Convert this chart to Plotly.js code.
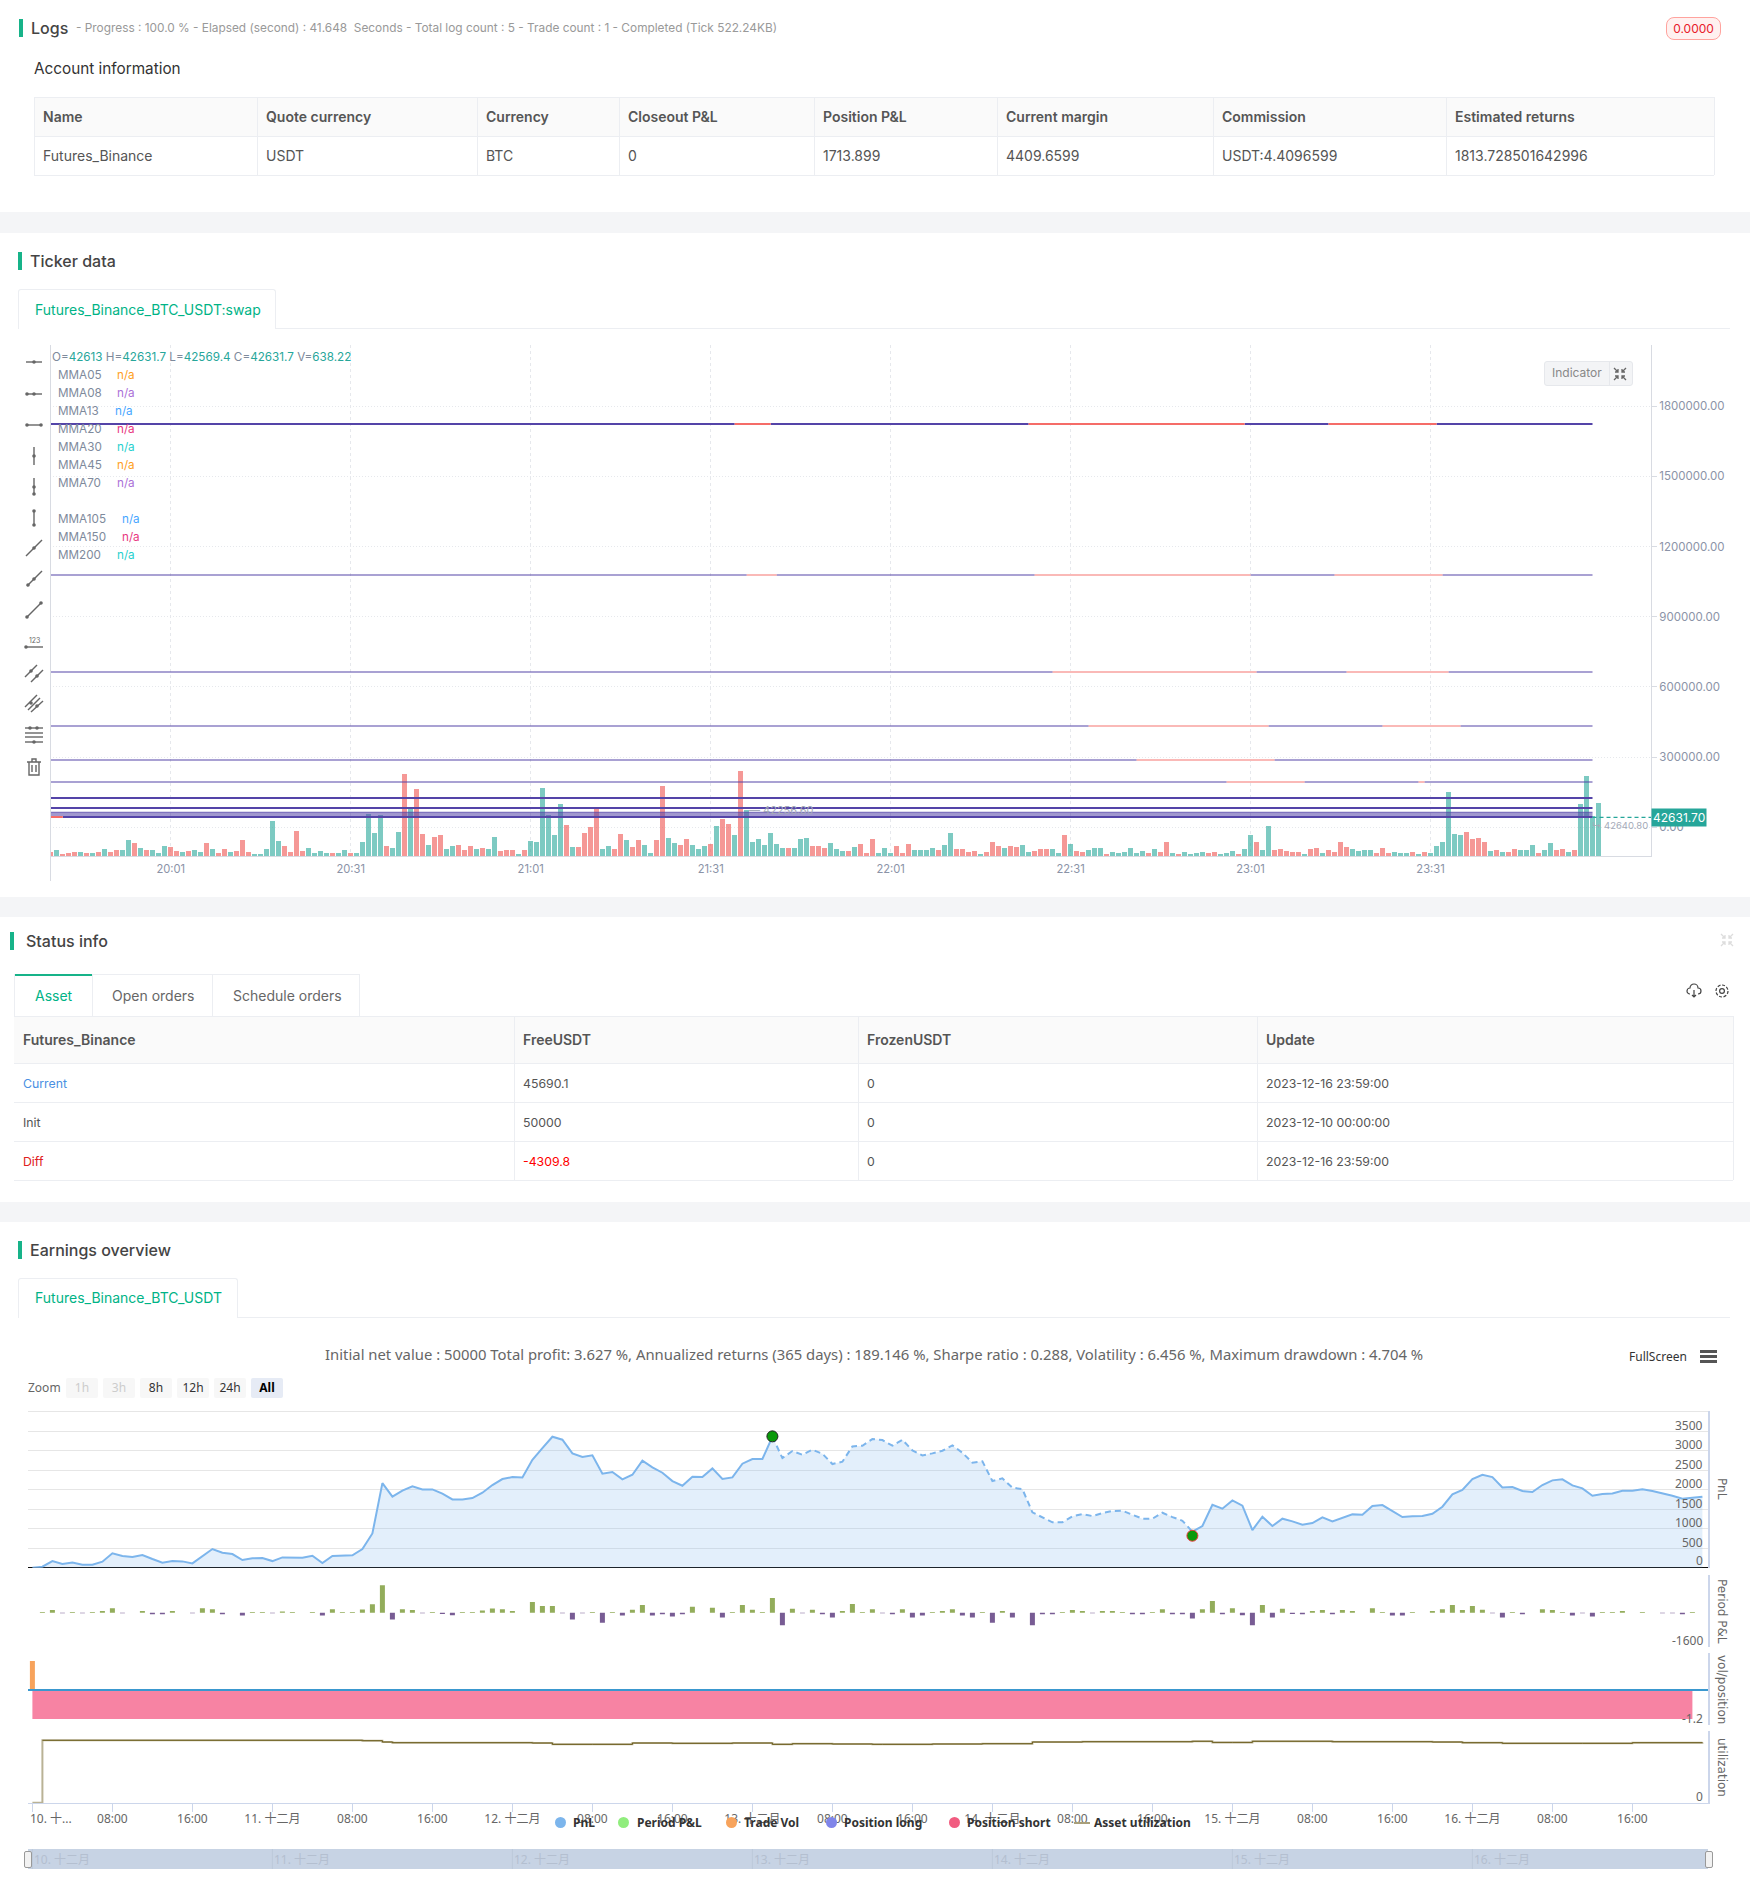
<!DOCTYPE html>
<html><head><meta charset="utf-8">
<script src="https://cdn.plot.ly/plotly-3.0.1.min.js"></script>
<style>
html,body{margin:0;padding:0;background:#fff;}
body{position:relative;width:1750px;height:1899px;overflow:hidden;font-family:Inter,"Noto Sans",sans-serif;color:#333;font-size:14px;}
.a{position:absolute;white-space:nowrap;}
.band{position:absolute;left:0;width:1750px;background:#f4f5f7;}
.bar{position:absolute;width:4px;height:18px;background:#17b389;}
.h{position:absolute;font-size:16px;font-weight:500;color:#444;line-height:18px;white-space:nowrap;}
.tab{position:absolute;border:1px solid #eceef2;border-bottom:none;border-radius:3px 3px 0 0;color:#00b386;font-size:14px;text-align:left;box-sizing:border-box;background:#fff;}
.hl{position:absolute;height:1px;background:#eceef2;}
.vl{position:absolute;width:1px;background:#eceef2;}
.cell{position:absolute;white-space:nowrap;font-size:14px;line-height:16px;}
.th{font-weight:600;color:#555;}
.td{color:#555;}
.td2{color:#555;font-size:12.3px;}
.mma{position:absolute;font-size:11.7px;line-height:14px;color:#7e8a9c;white-space:nowrap;}
.zb{position:absolute;top:1378px;height:20px;width:32px;background:#f7f7f7;font-size:12px;line-height:20px;text-align:center;color:#333;font-family:"Noto Sans",sans-serif;border-radius:2px;}
.lg{position:absolute;top:1816px;font-family:"Noto Sans",sans-serif;font-weight:700;font-size:12px;line-height:14px;color:#333;white-space:nowrap;z-index:5;}
.dot{position:absolute;top:1817px;width:11px;height:11px;border-radius:50%;z-index:5;}
#main,#earn{position:absolute;left:0;}
#main{top:335px;width:1750px;height:560px;}
#earn{top:1340px;width:1750px;height:540px;}
</style></head><body>

<div class="bar" style="left:19px;top:19px"></div>
<div class="h" style="left:31px;top:19px">Logs</div>
<div class="a" style="left:76px;top:21px;font-size:11.85px;color:#999;line-height:14px">- Progress : 100.0 % - Elapsed (second) : 41.648&nbsp; Seconds - Total log count : 5 - Trade count : 1 - Completed (Tick 522.24KB)</div>
<div class="a" style="left:1666px;top:17px;width:53px;height:21px;border:1px solid #ffa39e;border-radius:8px;background:#fff1f0;color:#e8202a;font-size:12px;line-height:21px;text-align:center">0.0000</div>
<div class="a" style="left:34px;top:60px;font-size:15.3px;color:#333;line-height:18px">Account information</div>

<div id="acct"></div>

<div class="band" style="top:212px;height:21px"></div>
<div class="bar" style="left:18px;top:252px"></div>
<div class="h" style="left:30px;top:252px">Ticker data</div>
<div class="tab" style="left:18px;top:289px;width:258px;height:40px;padding:11px 0 0 16px">Futures_Binance_BTC_USDT:swap</div>
<div class="hl" style="left:276px;top:328px;width:1454px"></div>

<div id="main"></div>
<div class="vl" style="left:50px;top:345px;height:536px;background:#d8dbe2;z-index:3"></div>
<div id="toolbar"></div>
<div class="mma" style="left:52px;top:350px" id="ohlc"></div>
<div id="mmaLabels"></div>
<div class="a" style="left:1544px;top:361px;width:87px;height:23px;border:1px solid #e6e8ec;background:#f3f4f6;border-radius:3px;font-size:12px;line-height:22px;color:#888;z-index:4"><span style="margin-left:7px">Indicator</span><span style="position:absolute;left:64px;top:0;height:23px;width:1px;background:#e6e8ec"></span>
<svg style="position:absolute;left:67px;top:4px" width="16" height="16" viewBox="0 0 16 16" fill="none" stroke="#666" stroke-width="1.3"><path d="M2 2l4 4M6 3v3H3M14 2l-4 4M10 3v3h3M2 14l4-4M3 10h3v3M14 14l-4-4M13 10h-3v3"/></svg></div>

<div class="band" style="top:897px;height:20px"></div>
<div class="bar" style="left:10px;top:932px"></div>
<div class="h" style="left:26px;top:932px">Status info</div>
<svg class="a" style="left:1720px;top:933px" width="14" height="14" viewBox="0 0 14 14" fill="none" stroke="#ddd" stroke-width="1.3"><path d="M1 1l4 4M5 2v3H2M13 1l-4 4M9 2v3h3M1 13l4-4M2 9h3v3M13 13l-4-4M12 9H9v3"/></svg>
<div id="status"></div>

<div class="band" style="top:1202px;height:20px"></div>
<div class="bar" style="left:18px;top:1241px"></div>
<div class="h" style="left:30px;top:1241px">Earnings overview</div>
<div class="tab" style="left:18px;top:1278px;width:220px;height:40px;padding:10px 0 0 16px">Futures_Binance_BTC_USDT</div>
<div class="hl" style="left:238px;top:1317px;width:1492px"></div>

<div id="earn"></div>
<div class="a" style="left:1629px;top:1349px;font-family:'Noto Sans',sans-serif;font-size:12px;line-height:16px;color:#333;z-index:5">FullScreen</div>
<div class="a" style="left:1700px;top:1350px;width:17px;height:3px;background:#555;z-index:5"></div>
<div class="a" style="left:1700px;top:1355px;width:17px;height:3px;background:#555;z-index:5"></div>
<div class="a" style="left:1700px;top:1360px;width:17px;height:3px;background:#555;z-index:5"></div>
<div class="a" style="left:28px;top:1380px;font-family:'Noto Sans',sans-serif;font-size:12px;line-height:16px;color:#666">Zoom</div>
<div class="zb" style="left:66px;color:#ccc">1h</div>
<div class="zb" style="left:103px;color:#ccc">3h</div>
<div class="zb" style="left:140px">8h</div>
<div class="zb" style="left:177px">12h</div>
<div class="zb" style="left:214px">24h</div>
<div class="zb" style="left:251px;background:#e6ebf5;font-weight:700;color:#000">All</div>
<div id="legendHtml"></div>
<div class="a" style="left:24px;top:1851px;width:6px;height:15px;background:#f2f2f2;border:1px solid #999;border-radius:2px;z-index:5"></div>
<div class="a" style="left:1705px;top:1851px;width:6px;height:15px;background:#f2f2f2;border:1px solid #999;border-radius:2px;z-index:5"></div>

<script>
// ---------- Ticker data ----------
const TICKER_DAY = '2023-12-16 ';
const tickTimes = ['20:01','20:31','21:01','21:31','22:01','22:31','23:01','23:31'];
const priceTicks = [0,300000,600000,900000,1200000,1500000,1800000];
const lastPrice = 42631.7;
const highPrice = 42640.8;
const lowPrice = 42256.6;

const mmaNames = ['MMA05','MMA08','MMA13','MMA20','MMA30','MMA45','MMA70','','MMA105','MMA150','MM200'];
const mmaColors = ['#ff9f1c','#ab6fd8','#46a6ff','#e8387f','#26d0ce','#ff9f1c','#ab6fd8','','#46a6ff','#e8387f','#26d0ce'];
const mmaLevels = [1723500,1078200,663700,432900,287600,193600,125200,82500,62400,52600,44000];
const mmaAlpha = [1,0.5,0.5,0.5,0.5,0.5,1,1,0.75,0.55,1];
const mmaRed = [
 [['21:35','21:41'],['22:24','23:00'],['23:14','23:32']],
 [['21:37','21:42'],['22:25','23:01'],['23:15','23:33']],
 [['22:28','23:02'],['23:17','23:34']],
 [['22:34','23:04'],['23:23','23:36']],
 [['22:42','23:05']],
 [['22:57','23:10'],['23:29','23:30']],
 [],[],[],[],
 [['19:41','19:43']]
];
const lineStart = '19:41', lineEnd = '23:58';

// one value per minute from 19:41 to 23:59
const volumes = [
48,72,24,40,48,48,36,32,48,80,
52,68,76,192,156,96,76,76,36,116,
112,60,48,60,68,52,152,84,36,88,
52,60,188,44,28,24,84,424,184,120,
48,300,60,100,36,64,36,36,32,72,
36,40,172,500,272,492,124,100,288,984,
560,800,260,132,228,252,80,116,132,72,
124,80,96,84,224,60,76,72,24,72,
184,168,820,488,252,620,368,108,108,280,
348,572,84,124,84,264,192,108,192,128,
36,192,840,216,156,136,208,132,84,120,
144,360,440,380,248,1020,552,168,200,128,
276,140,96,96,96,204,216,124,124,96,
152,84,60,60,108,144,40,200,
40,100,40,124,36,144,68,76,76,100,
72,136,276,88,84,52,60,24,48,168,
120,100,116,112,132,48,60,84,84,84,
36,248,144,60,48,76,96,96,24,48,
36,48,96,36,60,36,84,48,172,36,
24,48,24,36,44,36,48,24,36,60,
28,84,252,168,72,360,72,88,60,52,
48,24,84,96,36,72,48,168,108,84,
60,68,68,36,100,36,48,40,40,48,
24,48,36,120,168,768,268,256,288,204,
220,168,60,72,48,48,84,72,72,136,
36,72,160,72,80,48,72,624,960,480,
638.22];
// direction of each of those bars: g = up, r = down
const volumeSide = ('rgrrrgrgrg rrggrgrggg rrgrggrgrr grrrgggggr rrrggggrgg rgggggrggr grrgrrggrr rgrggrrrgr ggggggrgrr rrggrrgrrg '+
 'grrggrrggg rgrrgrgggg gggrgggrrr gggrgrrr '+
 'gggrrrgggg rggrrrrgrr rgrrggrrrg grgrrgggrg gggggrgrrg rggggrrggg rggrggrrrr rgrrgrrrrg gggrrrgggr grggggggrr rrgrgrrggg rggrrgrggg g').replace(/ /g,'').split('');

// ---------- Earnings overview ----------
const summary = 'Initial net value : 50000 Total profit: 3.627 %, Annualized returns (365 days) : 189.146 %, Sharpe ratio : 0.288, Volatility : 6.456 %, Maximum drawdown : 4.704 %';
const pnl = [
0,25,170,95,135,75,75,155,370,300,275,325,222,130,170,162,110,300,480,385,350,197,240,248,170,265,265,257,308,120,300,317,317,480,880,2173,1823,1977,2088,2011,2011,1900,1754,1754,1788,1925,2122,2276,2327,2319,2772,3072,3363,3286,2935,2841,2884,2413,2456,2268,2387,2747,2576,2439,2225,2105,2336,2327,2550,2276,2319,2670,2790,2790,3363,
2815,2995,2900,3029,2927,2661,2721,3115,3132,3303,3277,3132,3286,3012,2884,2935,3003,3140,2952,2695,2730,2225,2293,2054,2019,1420,1292,1164,1164,1318,1378,1326,1403,1455,1463,1352,1258,1258,1412,1300,1206,924,
1070,1617,1515,1728,1592,967,1309,1070,1258,1189,1104,1147,1292,1189,1284,1369,1360,1583,1609,1455,1300,1318,1326,1386,1566,1883,1994,2276,2387,2327,2062,2071,1968,1942,2122,2242,2268,2113,2037,1848,1891,1908,1977,1977,2011,1968,1917,1848,1771,1788,1823];
const drawdownStartHour = 74, drawdownEndHour = 116;
const peakValue = 3372, troughValue = 821;
const periodPnl = [
0,30,120,-30,30,-30,30,75,210,-30,0,75,-75,-75,75,0,-30,210,165,-75,0,-135,30,30,-30,60,30,0,30,-135,165,30,30,150,390,1275,-315,165,120,-30,30,-60,-120,30,30,105,195,165,75,0,495,315,315,-30,-315,-30,30,-465,30,-135,135,360,-135,-75,-180,-75,270,0,225,-225,30,360,135,30,675,-585,180,-30,135,-75,-225,75,405,30,165,
-30,-75,165,-225,-135,30,75,165,-135,-225,30,-465,75,-225,0,-585,-75,-75,30,120,75,-30,75,75,30,-75,-75,30,165,-75,-75,-270,165,540,-75,210,-120,-585,360,-225,180,-60,-75,75,120,-75,120,75,0,210,30,-135,-135,30,0,75,165,360,120,315,135,-30,-225,30,-75,0,165,120,30,-135,-30,-180,30,30,75,0,30,0,-30,-30,-75,30,0];
const tradeVolHour = [0], tradeVol = [1.2];
const shortHours = [0,166], shortPosition = [-1.2,-1.2];
const longPosition = [0,0];
const utilHours = [0,1,33,35,36,50,52,56,60,64,70,74,76,80,84,85,90,95,100,105,116,118,120,122,130,140,143,147,155,160,167];
const utilValues = [0.0009,0.0887,0.0882,0.0863,0.0854,0.0849,0.0830,0.0830,0.0849,0.0844,0.0849,0.0830,0.0840,0.0835,0.0830,0.0830,0.0835,0.0840,0.0863,0.0868,0.0873,0.0858,0.0858,0.0873,0.0868,0.0863,0.0854,0.0844,0.0844,0.0854,0.0858];
const pnlTicks = [0,500,1000,1500,2000,2500,3000,3500];
const axisTickHours = [0,8,16,24,32,40,48,56,64,72,80,88,96,104,112,120,128,136,144,152,160];
const firstTickLabel = '10. 十...';
const axisTickLabels = ['','08:00','16:00','11. 十二月','08:00','16:00','12. 十二月','08:00','16:00','13. 十二月','08:00','16:00','14. 十二月','08:00','16:00','15. 十二月','08:00','16:00','16. 十二月','08:00','16:00'];
const navigatorHours = [0,24,48,72,96,120,144];
const navigatorLabels = ['10. 十二月','11. 十二月','12. 十二月','13. 十二月','14. 十二月','15. 十二月','16. 十二月'];
const legendNames = ['PnL','Period P&L','Trade Vol','Position long','Position short','Asset utilization'];
const legendColors = ['#7cb5ec','#90ed7d','#f7a35c','#8085e9','#f15c80','#a89f7a'];

// ---------- Tables ----------
const acctHeaders = ['Name','Quote currency','Currency','Closeout P&L','Position P&L','Current margin','Commission','Estimated returns'];
const acctValues = ['Futures_Binance','USDT','BTC','0','1713.899','4409.6599','USDT:4.4096599','1813.728501642996'];
const statusHeaders = ['Futures_Binance','FreeUSDT','FrozenUSDT','Update'];
const statusRows = [
 ['Current','45690.1','0','2023-12-16 23:59:00'],
 ['Init','50000','0','2023-12-10 00:00:00'],
 ['Diff','-4309.8','0','2023-12-16 23:59:00']];

// ---------- HTML chrome ----------
function el(html){document.body.insertAdjacentHTML('beforeend',html);}
(function(){
 const cols=[34,257,477,619,814,997,1213,1446,1714];
 el(`<div class="a" style="left:34px;top:97px;width:1680px;height:39px;background:#fafafa"></div>`);
 [97,136,175].forEach(y=>el(`<div class="hl" style="left:34px;top:${y}px;width:1680px"></div>`));
 cols.forEach(x=>el(`<div class="vl" style="left:${x}px;top:97px;height:78px"></div>`));
 acctHeaders.forEach((t,i)=>el(`<div class="cell th" style="left:${cols[i]+9}px;top:109px">${t.replace('&','&amp;')}</div>`));
 acctValues.forEach((t,i)=>el(`<div class="cell td" style="left:${cols[i]+9}px;top:148px">${t}</div>`));

 // status
 el(`<div class="a" style="left:14px;top:974px;width:78px;height:2px;background:#17b389"></div>`);
 el(`<div class="hl" style="left:92px;top:974px;width:267px"></div>`);
 el(`<div class="vl" style="left:212px;top:974px;height:42px"></div><div class="vl" style="left:359px;top:974px;height:42px"></div><div class="vl" style="left:14px;top:974px;height:42px"></div><div class="vl" style="left:92px;top:974px;height:42px"></div>`);
 el(`<div class="cell" style="left:35px;top:988px;color:#00b386">Asset</div><div class="cell" style="left:112px;top:988px;color:#666">Open orders</div><div class="cell" style="left:233px;top:988px;color:#666">Schedule orders</div>`);
 el(`<svg class="a" style="left:1686px;top:983px" width="16" height="16" viewBox="0 0 16 16" fill="none" stroke="#444" stroke-width="1.2"><path d="M4 11a3 3 0 0 1 0-6 4 4 0 0 1 8 0 3 3 0 0 1 0 6M8 7v7M6 12l2 2 2-2"/></svg>`);
 el(`<svg class="a" style="left:1714px;top:983px" width="16" height="16" viewBox="0 0 16 16" fill="none" stroke="#444" stroke-width="1.2"><circle cx="8" cy="8" r="2.4"/><circle cx="8" cy="8" r="6" stroke-dasharray="3 1.6"/></svg>`);
 const c2=[14,514,858,1257,1733];
 el(`<div class="a" style="left:14px;top:1016px;width:1719px;height:47px;background:#fafafa"></div>`);
 [1016,1063,1102,1141,1180].forEach(y=>el(`<div class="hl" style="left:14px;top:${y}px;width:1719px"></div>`));
 c2.slice(1).forEach(x=>el(`<div class="vl" style="left:${x}px;top:1016px;height:164px"></div>`));
 const tx=[23,523,867,1266];
 statusHeaders.forEach((t,i)=>el(`<div class="cell th" style="left:${tx[i]}px;top:1032px">${t}</div>`));
 const ry=[1076,1115,1154];
 statusRows.forEach((r,k)=>r.forEach((t,i)=>{
   let col='#555';
   if(k===0&&i===0)col='#4a90e2';
   if(k===2&&i===0)col='#e02020';
   if(k===2&&i===1)col='#ff0000';
   el(`<div class="cell td2" style="left:${tx[i]}px;top:${ry[k]}px;color:${col}">${t}</div>`);
 }));

 // ohlc + mma labels
 const g='#26a69a';
 document.getElementById('ohlc').innerHTML=`O=<span style="color:${g}">42613</span> H=<span style="color:${g}">42631.7</span> L=<span style="color:${g}">42569.4</span> C=<span style="color:${g}">42631.7</span> V=<span style="color:${g}">638.22</span>`;
 const naX=[117,117,115,117,117,117,117,0,122,122,117];
 mmaNames.forEach((n,i)=>{ if(!n)return;
   const y=368+i*18;
   el(`<div class="mma" style="left:58px;top:${y}px;z-index:4">${n}</div><div class="mma" style="left:${naX[i]}px;top:${y}px;color:${mmaColors[i]};z-index:4">n/a</div>`);
 });

 // toolbar icons
 const s='#666';
 const d=(x,y)=>`<circle cx="${x}" cy="${y}" r="1.8" fill="${s}"/>`;
 const l=(a,b,c,e)=>`<line x1="${a}" y1="${b}" x2="${c}" y2="${e}" stroke="${s}" stroke-width="1.4"/>`;
 const icons=[
  [362,l(2,10,18,10)+d(10,10)],[394,l(2,10,18,10)+d(3,10)+d(10,10)],[425,l(2,10,18,10)+d(3,10)+d(17,10)],
  [456,l(10,1,10,19)+d(10,10)],[487,l(10,1,10,17)+d(10,10)+d(10,17)],[518,l(10,3,10,17)+d(10,3)+d(10,17)],
  [548,l(2,18,18,2)+d(10,10)],[579,l(3,17,18,2)+d(4,16)+d(10,10)],[610,l(3,17,17,3)+d(3,17)+d(17,3)],
  [642,l(1,15,19,15)+d(2,15)+`<text x="5" y="11" font-size="7" fill="${s}" font-family="Inter">123</text>`],
  [673,l(1,14,13,2)+l(7,19,19,7)+d(7,8)+d(13,13)],[703,l(1,14,13,2)+l(4,17,16,5)+l(7,19,19,8)+d(7,10)+d(13,13)],
  [735,l(1,3,19,3)+l(1,8,19,8)+l(1,12,19,12)+l(1,17,19,17)+d(6,3)+d(13,3)+d(10,17)],
  [767,`<path d="M3 5h14M5 5v13h10V5M8 5V2h4v3M8 8v7M12 8v7" fill="none" stroke="${s}" stroke-width="1.4"/>`]
 ];
 document.getElementById('toolbar').innerHTML=icons.map(([y,c])=>`<svg class="a" style="left:24px;top:${y-10}px;z-index:4" width="20" height="20">${c}</svg>`).join('');

 // earnings legend
 const dotX=[555,618,726,826,949,0], txtX=[573,637,744,844,967,1094];
 legendNames.forEach((n,i)=>{
   if(i<5) el(`<div class="dot" style="left:${dotX[i]}px;background:${legendColors[i]}"></div>`);
   else el(`<div class="a" style="left:1074px;top:1822px;width:16px;height:2px;background:${legendColors[i]};z-index:5"></div>`);
   el(`<div class="lg" style="left:${txtX[i]}px">${n.replace('&','&amp;')}</div>`);
 });
})();

// ---------- Ticker chart ----------
const at = t => TICKER_DAY + t + ':00';
const minuteX = volumes.map((_,i)=>{const m=19*60+41+i;return at(String(Math.floor(m/60)).padStart(2,'0')+':'+String(m%60).padStart(2,'0'));});
const sideColor = {g:'rgba(38,166,154,0.6)', r:'rgba(239,83,80,0.6)'};
const mainTraces = [{
  type:'bar',x:minuteX,y:volumes,width:50000,yaxis:'y',
  marker:{color:volumeSide.map(s=>sideColor[s]),line:{width:0}},name:'Volume',showlegend:false,hoverinfo:'skip'
}];
mmaLevels.forEach((lv,i)=>{
  const a=mmaAlpha[i];
  mainTraces.push({type:'scatter',mode:'lines',x:[at(lineStart),at(lineEnd)],y:[lv,lv],yaxis:'y2',
    line:{color:`rgba(84,68,168,${a})`,width:2},name:mmaNames[i]||'MMA',showlegend:false,hoverinfo:'skip'});
  if(mmaRed[i].length){
    const xs=[],ys=[];
    mmaRed[i].forEach(([s,e])=>{xs.push(at(s),at(e),null);ys.push(lv,lv,null);});
    mainTraces.push({type:'scatter',mode:'lines',x:xs,y:ys,yaxis:'y2',line:{color:'#fff',width:2},showlegend:false,hoverinfo:'skip'});
    mainTraces.push({type:'scatter',mode:'lines',x:xs,y:ys,yaxis:'y2',line:{color:`rgba(244,100,96,${a===1?0.95:0.45})`,width:2},showlegend:false,hoverinfo:'skip'});
  }
});
const rangeEnd='2023-12-17 00:07:45';
mainTraces.push({type:'scatter',mode:'lines',x:[at(lineEnd),rangeEnd],y:[lastPrice,lastPrice],yaxis:'y2',
  line:{color:'#26a69a',width:1.2,dash:'4px,3px'},name:'Last price',showlegend:false,hoverinfo:'skip'});

Plotly.newPlot('main',mainTraces,{
  width:1750,height:560,margin:{l:50,r:99,t:10,b:39},
  paper_bgcolor:'rgba(0,0,0,0)',plot_bgcolor:'rgba(0,0,0,0)',
  showlegend:false,bargap:0,barmode:'overlay',
  font:{family:'Inter, "Noto Sans", sans-serif',size:12,color:'#8b93a7'},
  xaxis:{type:'date',range:['2023-12-16 19:40:52',rangeEnd],tickmode:'array',
    tickvals:tickTimes.map(at),ticktext:tickTimes,
    showgrid:true,gridcolor:'#e6e8ec',griddash:'3px,3px',gridwidth:1,
    showline:true,linecolor:'#d8dbe2',linewidth:1,ticks:'',zeroline:false,ticklabelstandoff:3,
    tickfont:{size:11.2,color:'#8b93a7'}},
  yaxis:{range:[0,6132],visible:false,showgrid:false,zeroline:false,fixedrange:true},
  yaxis2:{overlaying:'y',side:'right',range:[-122650,2061000],tickmode:'array',tickvals:priceTicks,
    ticktext:priceTicks.map(v=>v.toFixed(2)),showgrid:true,gridcolor:'#e6e8ec',griddash:'1px,2px',gridwidth:1,
    showline:true,linecolor:'#d8dbe2',linewidth:1,ticks:'outside',ticklen:5,tickcolor:'#d8dbe2',zeroline:false,
    tickfont:{size:11.5,color:'#8b93a7'}},
  annotations:[
   {xref:'paper',yref:'y2',x:1,y:lastPrice,xanchor:'left',yanchor:'middle',showarrow:false,text:lastPrice.toFixed(2),
    bgcolor:'#26a69a',font:{color:'#fff',size:12},borderpad:1,xshift:0},
   {xref:'x',yref:'y2',x:at('21:37'),y:lowPrice,yshift:7,xanchor:'left',showarrow:false,text:'— '+lowPrice.toFixed(2),font:{size:11,color:'#a4aab8'}},
   {xref:'x',yref:'y2',x:at('23:58'),y:highPrice,yshift:-8,xanchor:'left',xshift:-3,showarrow:false,text:'↳ '+highPrice.toFixed(2),font:{size:9.5,color:'#a4aab8'}}
  ]
},{staticPlot:true,displayModeBar:false});

// ---------- Earnings chart ----------
const hourX = h => new Date(Date.UTC(2023,11,10,0,0,0)+h*3600000).toISOString().slice(0,19).replace('T',' ');
const hours = pnl.map((_,i)=>i);
const B=1870,P=460, f=y=>(B-y)/P;
const pnlX = hours.map(hourX);
const solidY = pnl.map((v,i)=>(i<=drawdownStartHour||i>=drawdownEndHour)?v:null);
const dashY = pnl.map((v,i)=>(i>=drawdownStartHour&&i<=drawdownEndHour)?v:null);
const xStart=hourX(-0.44), xEnd=hourX(167.56);
const earnTraces=[
 {type:'scatter',mode:'none',x:pnlX,y:pnl,fill:'tozeroy',fillcolor:'rgba(124,181,236,0.21)',yaxis:'y',name:'PnL area',showlegend:false,hoverinfo:'skip'},
 {type:'scatter',mode:'lines',x:pnlX,y:solidY,line:{color:'#7cb5ec',width:2},connectgaps:false,yaxis:'y',name:'PnL',hoverinfo:'skip'},
 {type:'scatter',mode:'lines',x:pnlX,y:dashY,line:{color:'#7cb5ec',width:2,dash:'6px,4px'},connectgaps:false,yaxis:'y',name:'PnL drawdown',hoverinfo:'skip'},
 {type:'scatter',mode:'markers',x:[hourX(drawdownStartHour)],y:[peakValue],marker:{size:11,color:'#0a9a0a',line:{color:'#222',width:1}},yaxis:'y',name:'Peak',hoverinfo:'skip'},
 {type:'scatter',mode:'markers',x:[hourX(drawdownEndHour)],y:[troughValue],marker:{size:11,color:'#0a9a0a',line:{color:'#f03a3a',width:1}},yaxis:'y',name:'Trough',hoverinfo:'skip'},
 {type:'bar',x:pnlX,y:periodPnl,width:1800000,yaxis:'y2',marker:{color:periodPnl.map(v=>v>=0?'#93ad5b':'#785c94'),line:{width:0}},name:'Period P&L',hoverinfo:'skip'},
 {type:'scatter',mode:'lines',x:shortHours.map(hourX),y:shortPosition,fill:'tozeroy',fillcolor:'#f783a3',line:{width:0,color:'#f783a3'},yaxis:'y3',name:'Position short',hoverinfo:'skip'},
 {type:'scatter',mode:'lines',x:[xStart,xEnd],y:longPosition,line:{color:'#3a98cf',width:2},yaxis:'y3',name:'Position long',hoverinfo:'skip'},
 {type:'bar',x:tradeVolHour.map(hourX),y:tradeVol,width:1800000,yaxis:'y3',marker:{color:'#f7a35c',line:{width:0}},name:'Trade Vol',hoverinfo:'skip'},
 {type:'scatter',mode:'lines',x:utilHours.map(hourX),y:utilValues,line:{color:'rgba(168,159,122,0.8)',width:2,shape:'hv'},yaxis:'y4',name:'Asset utilization',hoverinfo:'skip'},
 {type:'scatter',mode:'lines',x:utilHours.slice(1).map(hourX),y:utilValues.slice(1),line:{color:'#5b4a00',width:0.8,shape:'hv'},yaxis:'y4',name:'Asset utilization line',hoverinfo:'skip'}
];
const yBase={side:'right',anchor:'x',showticklabels:false,ticks:'',showgrid:true,gridcolor:'#e6e6e6',gridwidth:1,
  showline:true,linecolor:'#ccd6eb',linewidth:2,zeroline:false,fixedrange:true,tickmode:'array'};
const tickAnn=(y,axis,text,shift)=>({xref:'paper',yref:axis,x:1,y:y,xanchor:'right',yanchor:'middle',xshift:-3,yshift:shift,showarrow:false,text:text,
  font:{family:'"Noto Sans",sans-serif',size:12,color:'#666'}});
const titleAnn=(py,text)=>({xref:'paper',yref:'paper',x:1,y:f(py),xanchor:'center',yanchor:'middle',xshift:14,textangle:90,showarrow:false,text:text,
  font:{family:'"DejaVu Sans",sans-serif',size:12,color:'#666'}});
const annos=[
 ...pnlTicks.map(v=>tickAnn(v,'y',String(v),v===0?7:6)),
 tickAnn(-1600,'y2','-1600',7),
 tickAnn(-1.2,'y3','-1.2',0),
 tickAnn(0,'y4','0',7),
 titleAnn(1489,'PnL'),titleAnn(1611,'Period P&amp;L'),titleAnn(1689,'vol/position'),titleAnn(1767,'utilization'),
 {xref:'x',yref:'paper',x:hourX(0),y:f(1818),xanchor:'left',yanchor:'middle',xshift:-4,showarrow:false,text:firstTickLabel,
   font:{family:'"Noto Sans","Noto Sans CJK SC",sans-serif',size:12,color:'#666'}},
 ...navigatorHours.map((h,i)=>({xref:'x',yref:'paper',x:hourX(h),y:f(1859),xanchor:'left',yanchor:'middle',xshift:0,showarrow:false,text:navigatorLabels[i],
   font:{family:'"Noto Sans","Noto Sans CJK SC",sans-serif',size:12,color:'#b4bfd0'}}))
];
const shapes=[
 {type:'rect',xref:'paper',yref:'paper',x0:0,x1:1,y0:f(1869),y1:f(1849),fillcolor:'#c7d3e4',line:{width:0},layer:'below'},
 ...navigatorHours.map(h=>({type:'line',xref:'x',yref:'paper',x0:hourX(h),x1:hourX(h),y0:f(1869),y1:f(1849),line:{color:'#bcc9db',width:1},layer:'below'}))
];
Plotly.newPlot('earn',earnTraces,{
  width:1750,height:540,margin:{l:28,r:42,t:70,b:10},
  paper_bgcolor:'rgba(0,0,0,0)',plot_bgcolor:'rgba(0,0,0,0)',showlegend:false,barmode:'overlay',
  font:{family:'"Noto Sans","Noto Sans CJK SC",sans-serif',size:12,color:'#666'},
  title:{text:summary,x:0.4995,xanchor:'center',y:1-15/540,yanchor:'middle',font:{family:'"Noto Sans",sans-serif',size:14.85,color:'#666'}},
  xaxis:{type:'date',anchor:'y4',range:[xStart,xEnd],tickmode:'array',tickvals:axisTickHours.map(hourX),ticktext:axisTickLabels,
    showgrid:false,showline:true,linecolor:'#ccd6eb',linewidth:1,ticks:'outside',ticklen:8,tickcolor:'#ccd6eb',zeroline:false,ticklabelstandoff:-4,
    tickangle:0,tickfont:{family:'"Noto Sans","Noto Sans CJK SC",sans-serif',size:12,color:'#666'}},
  yaxis:{...yBase,domain:[f(1567.7),f(1410.7)],range:[0,4031],tickvals:[500,1000,1500,2000,2500,3000,3500,4000],zeroline:true,zerolinecolor:'#111',zerolinewidth:1.5},
  yaxis2:{...yBase,domain:[f(1647.3),f(1575.3)],range:[-1600,1730],tickvals:[-1600,1730]},
  yaxis3:{...yBase,domain:[f(1725),f(1653.3)],range:[-1.448,1.514],tickvals:[-1.448,1.514]},
  yaxis4:{...yBase,domain:[f(1803.3),f(1731.3)],range:[0,0.1014],tickvals:[0.1014]},
  annotations:annos,shapes:shapes
},{staticPlot:true,displayModeBar:false});
</script>
</body></html>
